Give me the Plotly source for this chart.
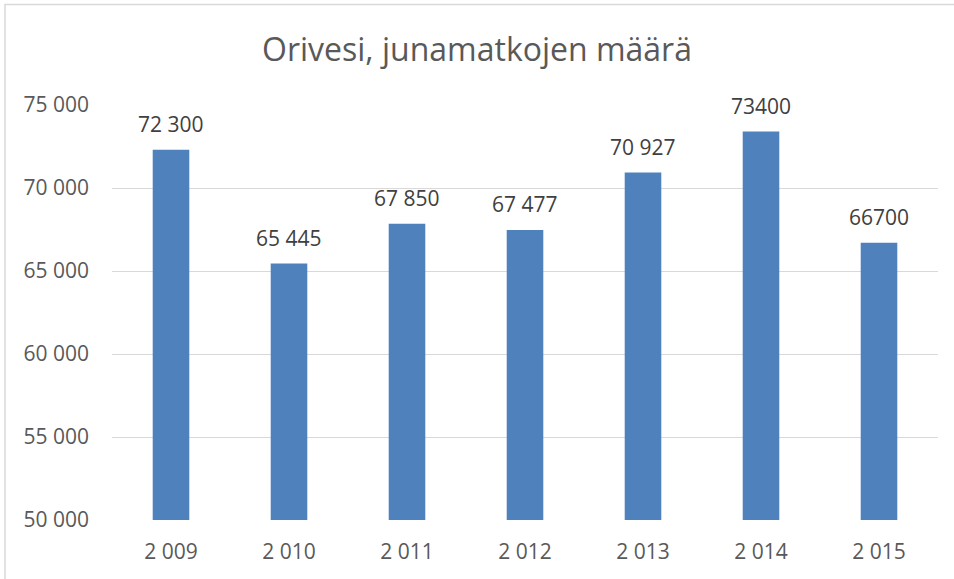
import plotly.graph_objects as go

years = ["2 009", "2 010", "2 011", "2 012", "2 013", "2 014", "2 015"]
values = [72300, 65445, 67850, 67477, 70927, 73400, 66700]
labels = ["72 300", "65 445", "67 850", "67 477", "70 927", "73400", "66700"]
yticks = [50000, 55000, 60000, 65000, 70000, 75000]
yticktext = ["50 000", "55 000", "60 000", "65 000", "70 000", "75 000"]

W, H = 954, 579
ml, mt = 112, 105
pw, ph = 826, 415
mr, mb = W - ml - pw, H - mt - ph

fig = go.Figure(go.Bar(
    x=years, y=values,
    marker=dict(color="#4F81BD", line=dict(width=0)),
    width=0.31,
))

for yr, v, lab in zip(years, values, labels):
    fig.add_annotation(x=yr, y=v, text=lab, showarrow=False,
                       yanchor="bottom", yshift=10,
                       font=dict(size=21, color="#404040"))

def px2x(p):
    return (p - ml) / pw

def py2y(p):
    return (H - mb - p) / ph

fig.update_layout(
    width=W, height=H,
    margin=dict(l=ml, r=mr, t=mt, b=mb),
    paper_bgcolor="white", plot_bgcolor="white",
    font=dict(family="Open Sans, sans-serif", color="#595959"),
    title=dict(text="Orivesi, junamatkojen määrä", x=0.5, xanchor="center",
               y=1 - 50 / H, yanchor="middle",
               font=dict(size=32, color="#595959")),
    showlegend=False,
    xaxis=dict(showgrid=False, showline=False, ticks="",
               tickfont=dict(size=21, color="#595959"), automargin=False),
    yaxis=dict(range=[50000, 75000], tickvals=yticks, ticktext=yticktext,
               showgrid=True, gridcolor="#D9D9D9", gridwidth=1,
               zeroline=False, showline=False, ticks="",
               ticklabelstandoff=22, automargin=False,
               tickfont=dict(size=21, color="#595959")),
    shapes=[dict(type="rect", xref="paper", yref="paper",
                 x0=px2x(5), x1=px2x(990), y0=py2y(620), y1=py2y(4.5),
                 line=dict(color="#D9D9D9", width=1.5), layer="below")],
)
fig.update_xaxes(ticklabelstandoff=17)

fig.write_html("out.html",
               config={"displayModeBar": False},
               post_script="document.body.style.margin='0';document.body.style.overflow='hidden';")
